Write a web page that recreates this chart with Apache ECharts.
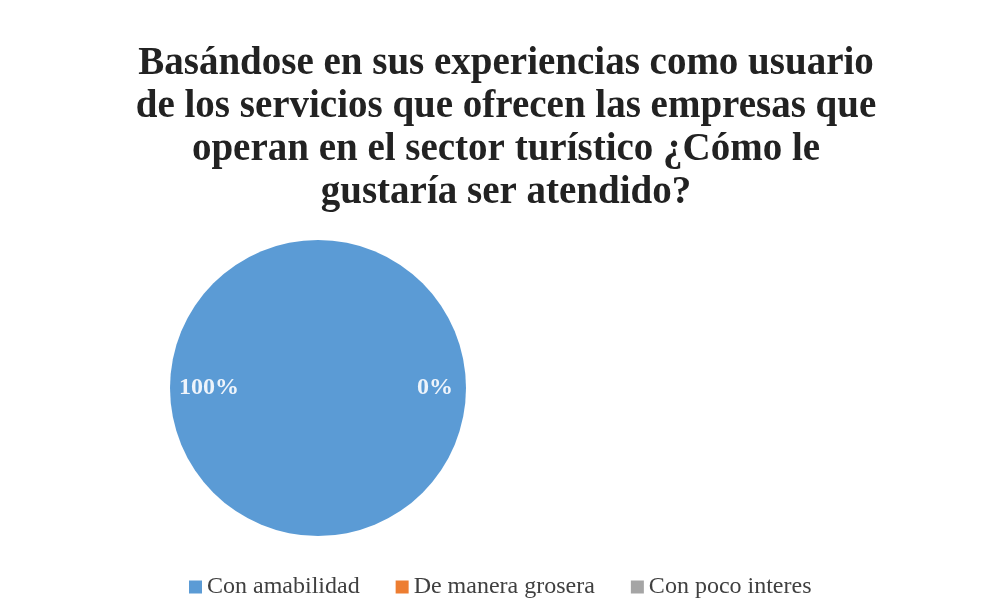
<!DOCTYPE html>
<html>
<head>
<meta charset="utf-8">
<script src="https://cdn.jsdelivr.net/npm/echarts@6/dist/echarts.min.js"></script>
<style>
    html, body { margin: 0; padding: 0; background: #ffffff; }
    #main { width: 981px; height: 616px; }
</style>
</head>
<body>
<div id="main"></div>
<script>
// datos de la encuesta (porcentajes)
var categorias = ['Con amabilidad', 'De manera grosera', 'Con poco interes'];
var valores = [100, 0, 0];
var colores = ['#5b9bd5', '#ed7d31', '#a5a5a5'];
var titulo = 'Basándose en sus experiencias como usuario\nde los servicios que ofrecen las empresas que\noperan en el sector turístico ¿Cómo le\ngustaría ser atendido?';

var myChart = echarts.init(document.getElementById('main'));

// desplazamiento de etiquetas para parecerse al original
var offsets = [[-32, 0], [40, 0], [40, 0]];

var datos = categorias.map(function (c, i) {
    return {
        name: c,
        value: valores[i],
        itemStyle: { color: colores[i] },
        label: { offset: offsets[i], show: i < 2 }
    };
});

var option = {
    backgroundColor: '#ffffff',
    title: {
        text: titulo,
        left: 501,
        top: 37,
        textAlign: 'center',
        textStyle: {
            fontFamily: 'Liberation Serif',
            fontWeight: 'bold',
            fontSize: 39,
            lineHeight: 43,
            color: '#222222'
        }
    },
    legend: {
        left: 184,
        top: 570,
        itemWidth: 13,
        itemHeight: 13,
        itemGap: 36,
        icon: 'rect',
        textStyle: {
            fontFamily: 'Liberation Serif',
            fontSize: 24,
            color: '#404040'
        },
        data: categorias
    },
    series: [
        {
            type: 'pie',
            center: [318, 388],
            radius: 148,
            startAngle: 0,
            clockwise: true,
            avoidLabelOverlap: false,
            label: {
                show: true,
                position: 'inside',
                formatter: function (p) { return p.value + '%'; },
                fontFamily: 'Liberation Serif',
                fontWeight: 'bold',
                fontSize: 24,
                color: '#eef4fb'
            },
            labelLine: { show: false },
            emphasis: { disabled: true },
            data: datos
        }
    ]
};

myChart.setOption(option);
</script>
</body>
</html>
